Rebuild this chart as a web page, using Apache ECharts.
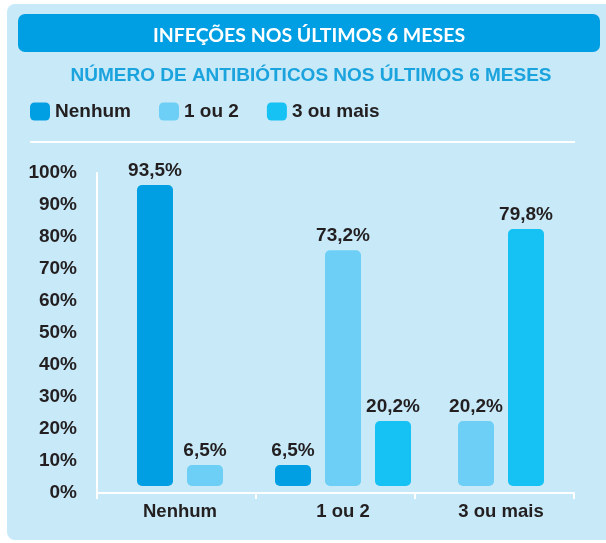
<!DOCTYPE html>
<html>
<head>
<meta charset="utf-8">
<script src="https://cdn.jsdelivr.net/npm/echarts@6/dist/echarts.min.js"></script>
<style>
  html, body { margin: 0; padding: 0; background: #ffffff; }
  #chart { width: 606px; height: 543px; }
</style>
</head>
<body>
<div id="chart"></div>
<script>
// dados
const categories = ['Nenhum', '1 ou 2', '3 ou mais'];
const seriesNames = ['Nenhum', '1 ou 2', '3 ou mais'];
const nenhum = [93.5, 6.5, null];
const umOuDois = [6.5, 73.2, 20.2];
const tresOuMais = [null, 20.2, 79.8];
const title = 'INFEÇÕES NOS ÚLTIMOS 6 MESES';
const subtitle = 'NÚMERO DE ANTIBIÓTICOS NOS ÚLTIMOS 6 MESES';

const values = [nenhum, umOuDois, tresOuMais];
const colors = ['#009fe3', '#6dcff6', '#16c1f3'];
const font = "'Liberation Sans', Arial, sans-serif";
const textDark = '#231f20';

// layout dos grupos
const groupCenters = [180, 343, 501];
const slot = 50;

const myChart = echarts.init(document.getElementById('chart'));

const grids = [{ left: 97, top: 173, width: 477, height: 320 }];
const xAxes = [{
  gridIndex: 0,
  type: 'category',
  data: categories,
  axisLine: { lineStyle: { color: '#ffffff', width: 2 } },
  axisTick: {
    show: true,
    length: 6,
    interval: (idx) => idx < categories.length,
    lineStyle: { color: '#ffffff', width: 2 }
  },
  axisLabel: { show: false }
}];
const yAxes = [{
  gridIndex: 0,
  type: 'value',
  min: 0,
  max: 100,
  interval: 10,
  axisLine: { show: true, lineStyle: { color: '#ffffff', width: 2 } },
  axisTick: { show: false },
  splitLine: { show: false },
  axisLabel: {
    formatter: '{value}%',
    margin: 20,
    fontFamily: font,
    fontWeight: 'bold',
    fontSize: 19,
    color: textDark
  }
}];
const series = [];

categories.forEach((cat, i) => {
  const present = seriesNames.filter((n, s) => values[s][i] != null);
  grids.push({
    left: groupCenters[i] - slot * present.length / 2,
    width: slot * present.length,
    top: 164,
    height: 322
  });
  xAxes.push({
    gridIndex: i + 1,
    type: 'category',
    data: present,
    axisLine: { show: false },
    axisTick: { show: false },
    axisLabel: { show: false },
    name: cat,
    nameLocation: 'middle',
    nameGap: 26,
    nameTextStyle: {
      fontFamily: font,
      fontWeight: 'bold',
      fontSize: 18.5,
      color: textDark,
      verticalAlign: 'middle'
    }
  });
  yAxes.push({ gridIndex: i + 1, type: 'value', min: 0, max: 100, show: false });
  seriesNames.forEach((name, s) => {
    series.push({
      name: name,
      type: 'bar',
      xAxisIndex: i + 1,
      yAxisIndex: i + 1,
      barWidth: 36,
      barGap: '-100%',
      data: present.map(p => (p === name ? values[s][i] : null)),
      itemStyle: { color: colors[s], borderRadius: 5 },
      label: {
        show: true,
        position: 'top',
        distance: 5,
        formatter: (p) => String(p.value).replace('.', ',') + '%',
        fontFamily: font,
        fontWeight: 'bold',
        fontSize: 19,
        color: textDark
      }
    });
  });
});

const option = {
  animation: false,
  graphic: [
    { type: 'rect', z: -10, shape: { x: 7, y: 4, width: 620, height: 536, r: 8 }, style: { fill: '#c7e9f8' } },
    { type: 'rect', z: -9, shape: { x: 18, y: 14, width: 582, height: 38, r: 7 }, style: { fill: '#009fe3' } },
    { type: 'line', z: -9, shape: { x1: 30, y1: 142, x2: 575, y2: 142 }, style: { stroke: '#ffffff', lineWidth: 2 } },
    {
      type: 'text', x: 309, y: 36,
      style: {
        text: title, fill: '#ffffff', font: "bold 19.5px Lato, 'Open Sans', sans-serif",
        textAlign: 'center', textVerticalAlign: 'middle'
      }
    },
    {
      type: 'text', x: 311, y: 76,
      style: {
        text: subtitle, fill: '#1ba3dd', font: 'bold 19px ' + font,
        textAlign: 'center', textVerticalAlign: 'middle'
      }
    }
  ],
  legend: {
    data: seriesNames,
    left: 25,
    top: 97,
    icon: 'roundRect',
    itemWidth: 20,
    itemHeight: 18,
    itemGap: 28,
    textStyle: { fontFamily: font, fontWeight: 'bold', fontSize: 19, color: textDark }
  },
  grid: grids,
  xAxis: xAxes,
  yAxis: yAxes,
  series: series
};

myChart.setOption(option);
</script>
</body>
</html>
